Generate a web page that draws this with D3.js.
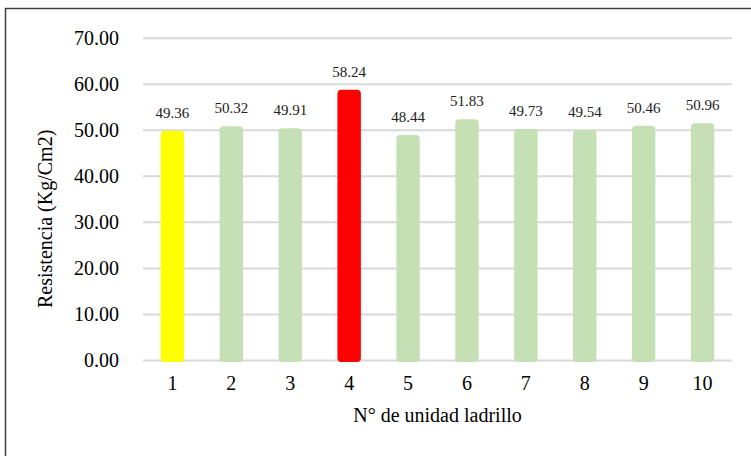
<!DOCTYPE html>
<html>
<head>
<meta charset="utf-8">
<script src="https://cdn.jsdelivr.net/npm/d3@7"></script>
<style>
  html, body { margin: 0; padding: 0; background: #fff; }
  svg { display: block; }
  svg text { font-family: "Liberation Serif", "Times New Roman", Times, "DejaVu Serif", serif !important; }
</style>
</head>
<body>
<svg id="chart" width="751" height="456"></svg>
<script>
// Compressive strength per brick unit
const units = ["1", "2", "3", "4", "5", "6", "7", "8", "9", "10"];
const strength = [49.36, 50.32, 49.91, 58.24, 48.44, 51.83, 49.73, 49.54, 50.46, 50.96];
const barColors = ["#ffff00", "#c5e0b4", "#c5e0b4", "#ff0000", "#c5e0b4", "#c5e0b4", "#c5e0b4", "#c5e0b4", "#c5e0b4", "#c5e0b4"];
const yTicks = [0, 10, 20, 30, 40, 50, 60, 70];
const xTitle = "N° de unidad ladrillo";
const yTitle = "Resistencia (Kg/Cm2)";

const svg = d3.select("#chart");
const W = 751, H = 456;
const plot = { left: 143, right: 732, top: 37.7, bottom: 360 };

// outer frame
svg.append("rect")
  .attr("x", 5.5).attr("y", 8.5)
  .attr("width", W + 10).attr("height", H + 10)
  .attr("fill", "none").attr("stroke", "#404040").attr("stroke-width", 1.5);

const x = d3.scaleBand().domain(units).range([plot.left, plot.right]).paddingInner(0.67).paddingOuter(0.335);
const y = d3.scaleLinear().domain([0, 70]).range([plot.bottom, plot.top]);

// gridlines + y tick labels via axis
const yAxis = d3.axisLeft(y).tickValues(yTicks).tickFormat(d3.format(".2f"))
  .tickSize(-(plot.right - plot.left)).tickPadding(24);
const gy = svg.append("g").attr("transform", `translate(${plot.left},0)`).call(yAxis);
gy.select(".domain").remove();
gy.selectAll(".tick line").attr("stroke", "#d9d9d9").attr("stroke-width", 2);
gy.selectAll(".tick text").attr("fill", "#000").attr("font-size", 20).attr("dy", "0.34em");

// bars
svg.append("g").selectAll("rect").data(strength).join("rect")
  .attr("x", (d, i) => x(units[i]))
  .attr("y", d => y(d))
  .attr("width", x.bandwidth())
  .attr("height", d => y(0) - y(d))
  .attr("rx", 2)
  .attr("fill", (d, i) => barColors[i])
  .attr("stroke", (d, i) => barColors[i])
  .attr("stroke-width", 4)
  .attr("stroke-linejoin", "round");

// value labels
svg.append("g").selectAll("text").data(strength).join("text")
  .attr("x", (d, i) => x(units[i]) + x.bandwidth() / 2)
  .attr("y", d => y(d) - 15)
  .attr("text-anchor", "middle")
  .attr("font-size", 15)
  .attr("fill", "#222")
  .text(d => d.toFixed(2));

// x tick labels via axis
const xAxis = d3.axisBottom(x).tickSize(0).tickPadding(16);
const gx = svg.append("g").attr("transform", `translate(0,${plot.bottom})`).call(xAxis);
gx.select(".domain").remove();
gx.selectAll(".tick text").attr("fill", "#000").attr("font-size", 20);

// axis titles
svg.append("text")
  .attr("x", (plot.left + plot.right) / 2).attr("y", 422)
  .attr("text-anchor", "middle").attr("font-size", 20).attr("fill", "#000")
  .text(xTitle);

svg.append("text")
  .attr("transform", `translate(52,${(plot.top + plot.bottom) / 2 + 20}) rotate(-90)`)
  .attr("text-anchor", "middle").attr("font-size", 20).attr("fill", "#000")
  .text(yTitle);
</script>
</body>
</html>
